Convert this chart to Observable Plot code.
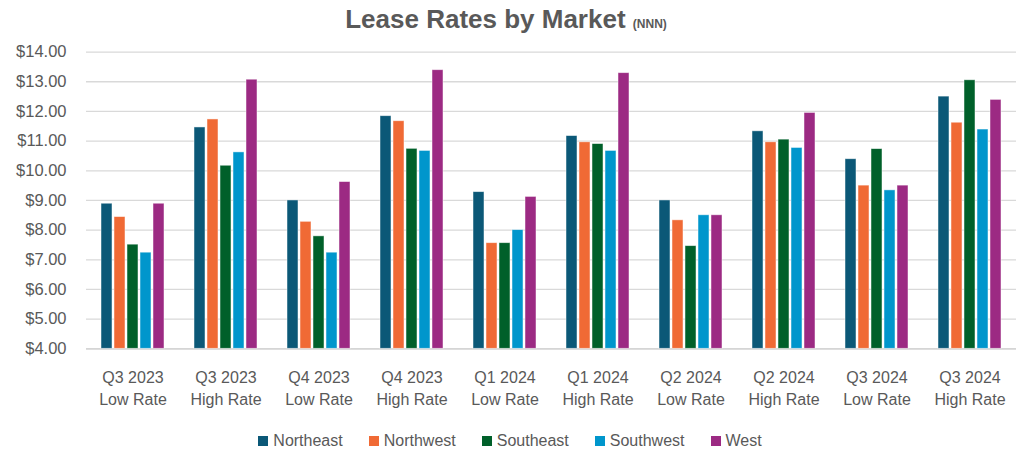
<!DOCTYPE html>
<html>
<head>
<meta charset="utf-8">
<script src="https://cdn.jsdelivr.net/npm/d3@7"></script>
<script src="https://cdn.jsdelivr.net/npm/@observablehq/plot@0.6"></script>
<style>
  html, body { margin: 0; padding: 0; background: #fff; }
  body { width: 1020px; height: 452px; overflow: hidden; font-family: "Liberation Sans", Arial, sans-serif; }
  #title { height: 40px; box-sizing: border-box; padding-top: 4px; line-height: 30px; text-align: center;
           color: #595959; font-weight: bold; font-size: 26px; padding-right: 8px; }
  #title small { font-size: 12px; font-weight: bold; }
  #legend { height: 32px; box-sizing: border-box; padding-top: 10px; display: flex; justify-content: center;
            gap: 26px; font-size: 16px; line-height: 20px; color: #595959; }
  #legend .item { display: flex; align-items: center; gap: 5px; }
  #legend .sw { width: 10px; height: 10px; display: inline-block; }
</style>
</head>
<body>
<div id="title">Lease Rates by Market <small>(NNN)</small></div>
<div id="chart"></div>
<div id="legend"></div>
<script>
const categories = [
  "Q3 2023\nLow Rate", "Q3 2023\nHigh Rate", "Q4 2023\nLow Rate", "Q4 2023\nHigh Rate",
  "Q1 2024\nLow Rate", "Q1 2024\nHigh Rate", "Q2 2024\nLow Rate", "Q2 2024\nHigh Rate",
  "Q3 2024\nLow Rate", "Q3 2024\nHigh Rate"
];
const markets = ["Northeast", "Northwest", "Southeast", "Southwest", "West"];
const colors = ["#0b5877", "#f06a35", "#00602a", "#0096cc", "#9c2a83"];
const northeast = [8.89, 11.46, 9.00, 11.84, 9.28, 11.17, 9.00, 11.33, 10.39, 12.50];
const northwest = [8.44, 11.73, 8.28, 11.67, 7.56, 10.96, 8.33, 10.96, 9.50, 11.62];
const southeast = [7.51, 10.17, 7.79, 10.74, 7.56, 10.90, 7.46, 11.05, 10.73, 13.05];
const southwest = [7.24, 10.62, 7.24, 10.67, 8.00, 10.67, 8.50, 10.77, 9.34, 11.39];
const west      = [8.89, 13.07, 9.62, 13.39, 9.12, 13.29, 8.50, 11.95, 9.50, 12.39];
const yTicks = [4, 5, 6, 7, 8, 9, 10, 11, 12, 13, 14];

const seriesValues = [northeast, northwest, southeast, southwest, west];
const data = [];
categories.forEach((c, i) => {
  markets.forEach((m, j) => data.push({category: c, market: m, value: seriesValues[j][i]}));
});

const chart = Plot.plot({
  width: 1020,
  height: 380,
  marginTop: 11.6,
  marginBottom: 71.7,
  marginLeft: 82,
  marginRight: 0,
  style: {fontFamily: "Liberation Sans, Arial, sans-serif", fontSize: "16px", color: "#595959", background: "#fff"},
  fx: {domain: categories, paddingInner: 0, paddingOuter: 0},
  x: {domain: markets, paddingInner: 0.16, paddingOuter: 1.0, axis: null},
  y: {domain: [4, 14]},
  color: {domain: markets, range: colors},
  marks: [
    Plot.gridY(yTicks, {stroke: "#d9d9d9", strokeOpacity: 1, strokeWidth: 1.3}),
    Plot.ruleY([4], {stroke: "#d0d0d0", strokeWidth: 1.3}),
    Plot.barY(data, {fx: "category", x: "market", y1: 4, y2: "value", fill: "market",
      stroke: "#ffffff", strokeWidth: 0.8, strokeOpacity: 0.6}),
    Plot.axisY(yTicks, {tickSize: 0, tickPadding: 20, tickFormat: d => "$" + d.toFixed(2),
      fontSize: 16.5, fill: "#595959", label: null}),
    Plot.axisFx({anchor: "bottom", tickSize: 0, tickPadding: 19, lineHeight: 1.375,
      fontSize: 16, fill: "#595959", label: null})
  ]
});
document.getElementById("chart").appendChild(chart);

const legend = document.getElementById("legend");
markets.forEach((m, i) => {
  const it = document.createElement("span");
  it.className = "item";
  const sw = document.createElement("span");
  sw.className = "sw";
  sw.style.background = colors[i];
  it.appendChild(sw);
  it.appendChild(document.createTextNode(m));
  legend.appendChild(it);
});
</script>
</body>
</html>
